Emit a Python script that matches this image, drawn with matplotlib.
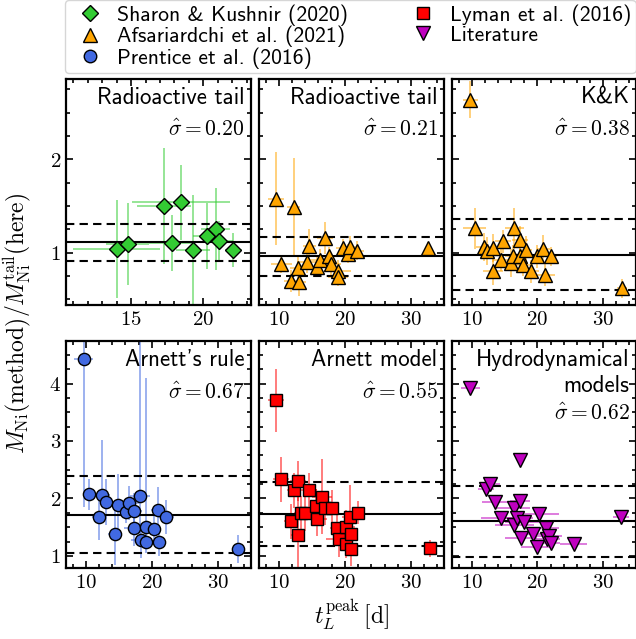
import matplotlib
matplotlib.use('Agg')
import matplotlib.pyplot as plt
from matplotlib.ticker import MultipleLocator, FuncFormatter
from matplotlib.lines import Line2D

plt.rcParams['mathtext.fontset'] = 'cm'
plt.rcParams['font.family'] = ['cmss10', 'DejaVu Sans']
plt.rcParams['axes.unicode_minus'] = False
plt.rcParams['font.size'] = 14

# ---------------- data ----------------
# Sharon & Kushnir (2020) -- radioactive tail
sk_t = [14.0, 14.77, 17.29, 17.83, 18.47, 19.28, 20.26, 20.85, 21.06, 22.08]
sk_r = [1.04, 1.09, 1.50, 1.10, 1.54, 1.03, 1.18, 1.25, 1.12, 1.03]
sk_terr = [3.0, 1.5, 1.85, 1.56, 3.4, 1.2, 1.0, 1.0, 1.0, 0.6]
sk_rerr = [0.52, 0.44, 0.62, 0.30, 0.40, 0.59, 0.35, 0.44, 0.22, 0.18]

# Afsariardchi et al. (2021) -- radioactive tail
af_t = [9.6, 10.4, 11.85, 12.25, 12.9, 13.05, 14.25, 14.6, 15.75, 16.25,
        17.0, 17.65, 17.85, 18.9, 19.0, 19.65, 20.5, 20.75, 21.85, 32.65]
af_r = [1.58, 0.88, 0.70, 1.49, 0.84, 0.69, 0.90, 1.07, 0.85, 0.92,
        1.16, 0.96, 0.88, 0.80, 0.74, 1.05, 0.99, 1.06, 1.02, 1.05]
af_terr = [1.2, 1.6, 1.0, 1.0, 1.2, 1.0, 1.5, 1.0, 1.2, 1.5,
           1.2, 1.5, 1.5, 2.0, 1.5, 1.0, 1.2, 1.0, 1.0, 0.6]
af_rerr = [0.50, 0.10, 0.12, 0.52, 0.12, 0.15, 0.12, 0.18, 0.10, 0.12,
           0.17, 0.10, 0.12, 0.12, 0.10, 0.10, 0.10, 0.12, 0.10, 0.06]

# Afsariardchi et al. (2021) -- K&K
kk_t = [9.8, 10.45, 11.8, 12.3, 13.2, 13.2, 14.45, 14.75, 16.0, 16.25,
        16.5, 17.3, 17.3, 17.8, 18.2, 19.0, 19.9, 20.9, 21.2, 22.0, 32.9]
kk_r = [2.64, 1.26, 1.06, 1.02, 1.05, 0.80, 0.92, 1.12, 0.89, 0.96,
        1.26, 1.14, 0.97, 0.87, 1.03, 0.80, 0.96, 1.04, 0.76, 0.96, 0.62]
kk_terr = [1.2, 1.8, 1.2, 1.0, 1.5, 1.5, 1.2, 1.2, 1.5, 1.2,
           1.5, 1.2, 1.2, 1.5, 1.0, 1.2, 1.2, 1.0, 1.5, 1.0, 0.8]
kk_rerr = [0.20, 0.22, 0.15, 0.15, 0.15, 0.15, 0.12, 0.12, 0.15, 0.12,
           0.22, 0.15, 0.12, 0.12, 0.15, 0.12, 0.12, 0.15, 0.12, 0.10, 0.10]

# Prentice et al. (2016) -- Arnett's rule
pr_t = [9.65, 10.5, 12.0, 12.4, 13.1, 14.4, 14.8, 16.1, 16.6, 17.3,
        17.3, 18.2, 18.3, 19.1, 19.1, 20.35, 20.85, 21.1, 22.1, 33.0]
pr_r = [4.42, 2.07, 1.67, 2.06, 1.93, 1.39, 1.88, 1.77, 1.92, 1.79,
        1.48, 2.04, 1.27, 1.50, 1.25, 1.46, 1.80, 1.25, 1.68, 1.12]
pr_terr = [1.5, 1.0, 1.0, 1.2, 1.0, 1.0, 1.2, 1.0, 1.5, 1.2,
           1.5, 1.5, 1.5, 1.0, 1.2, 1.0, 1.0, 1.0, 1.2, 0.6]
pr_rlo = [2.56, 0.27, 0.40, 0.20, 0.40, 0.55, 0.55, 0.20, 0.30, 0.30,
          0.30, 0.80, 0.30, 0.30, 0.20, 0.25, 0.40, 0.25, 0.30, 0.25]
pr_rhi = [2.5, 0.27, 0.40, 0.96, 0.40, 0.55, 0.55, 0.20, 0.30, 0.30,
          0.30, 2.7, 0.30, 2.6, 0.20, 0.25, 0.40, 0.25, 0.30, 0.25]

# Lyman et al. (2016) -- Arnett model
ly_t = [9.55, 10.35, 11.8, 12.3, 12.9, 12.9, 13.3, 13.9, 14.6, 15.65,
        15.8, 16.5, 17.0, 17.98, 18.8, 19.1, 20.1, 20.1, 20.7, 20.85,
        20.85, 22.0, 32.9]
ly_r = [3.71, 2.33, 1.60, 2.14, 2.31, 1.37, 1.74, 1.74, 2.14, 1.87,
        1.64, 2.03, 1.83, 1.84, 1.48, 1.29, 1.50, 1.21, 1.68, 1.39,
        1.12, 1.75, 1.13]
ly_terr = [1.2, 1.2, 1.0, 1.0, 1.2, 1.0, 1.0, 1.2, 1.2, 1.0,
           1.5, 1.5, 1.2, 1.2, 1.0, 2.0, 1.5, 1.0, 1.2, 1.0,
           1.0, 1.0, 0.6]
ly_rerr = [0.55, 0.40, 0.30, 0.30, 0.35, 0.90, 0.30, 0.30, 0.30, 0.30,
           0.30, 0.65, 0.30, 0.30, 0.30, 0.30, 0.30, 0.25, 0.55, 0.30,
           0.30, 0.20, 0.15]

# Literature -- hydrodynamical models
li_t = [9.8, 12.2, 12.8, 13.5, 14.45, 16.4, 16.5, 16.9, 17.3, 17.3,
        17.5, 18.0, 19.3, 19.95, 20.25, 21.3, 21.5, 21.7, 22.0, 25.5, 32.7]
li_r = [3.92, 2.17, 2.26, 1.94, 1.66, 1.83, 1.54, 1.66, 1.96, 2.67,
        1.31, 1.59, 1.39, 1.16, 1.73, 1.49, 1.30, 1.34, 1.22, 1.20, 1.67]
li_terr = [1.5, 1.2, 1.5, 2.0, 3.0, 2.5, 3.0, 2.5, 1.5, 0.0,
           2.5, 3.0, 2.0, 2.5, 3.0, 2.0, 2.0, 2.0, 1.5, 2.0, 1.2]

# medians and scatter lines per panel
centres = [1.11, 0.96, 0.98, 1.72, 1.73, 1.60]
sigmas = [0.20, 0.21, 0.38, 0.67, 0.55, 0.62]
titles = ['Radioactive tail', 'Radioactive tail', 'K&K',
          "Arnett's rule", 'Arnett model', 'Hydrodynamical\nmodels']

legend_labels = ['Sharon & Kushnir (2020)', 'Afsariardchi et al. (2021)',
                 'Prentice et al. (2016)', 'Lyman et al. (2016)', 'Literature']

c_green = '#33cc33'
c_orange = '#ffa500'
c_blue = '#4169e1'
c_red = '#ff0000'
c_mag = '#bf00bf'

# ---------------- figure ----------------
W, H = 636, 639
fig = plt.figure(figsize=(W / 100, H / 100), dpi=100)


def add_ax(x0, y0, x1, y1):
    return fig.add_axes([x0 / W, 1 - y1 / H, (x1 - x0) / W, (y1 - y0) / H])


cols = [(66, 251), (259, 444), (452, 636)]
rows = [(79, 305), (341, 568)]
axes = [[add_ax(c[0], r[0], c[1], r[1]) for c in cols] for r in rows]

intfmt = FuncFormatter(lambda v, p: r'$%d$' % round(v))


def style(ax, ylim, ymaj, xlim, xmaj, xmin, ylabels, xlabels=True):
    ax.set_xlim(*xlim)
    ax.set_ylim(*ylim)
    ax.xaxis.set_major_locator(MultipleLocator(xmaj))
    ax.xaxis.set_minor_locator(MultipleLocator(xmin))
    ax.yaxis.set_major_locator(MultipleLocator(ymaj))
    ax.yaxis.set_minor_locator(MultipleLocator(0.25))
    ax.xaxis.set_major_formatter(intfmt)
    ax.yaxis.set_major_formatter(intfmt)
    ax.tick_params(which='both', direction='in', top=True, right=True,
                   labelsize=15, width=1.2)
    ax.tick_params(which='major', length=5)
    ax.tick_params(which='minor', length=3)
    if not ylabels:
        ax.tick_params(labelleft=False)
    if not xlabels:
        ax.tick_params(labelbottom=False)
    for s in ax.spines.values():
        s.set_linewidth(1.6)


def panel(ax, t, r, terr, rerr, color, marker, ms, centre, sig, title):
    ax.errorbar(t, r, xerr=terr, yerr=rerr, fmt='none', ecolor=color,
                alpha=0.65, elinewidth=1.1, capsize=0, zorder=2)
    ax.plot(t, r, ls='none', marker=marker, ms=ms, mfc=color, mec='k',
            mew=1.0, zorder=4)
    ax.axhline(centre, color='k', lw=1.5, zorder=3)
    ax.axhline(centre + sig, color='k', lw=1.5, ls=(0, (4, 2.5)), zorder=3)
    ax.axhline(centre - sig, color='k', lw=1.5, ls=(0, (4, 2.5)), zorder=3)
    ax.text(0.965, 0.965, title, transform=ax.transAxes, ha='right', va='top',
            fontsize=16.5, linespacing=1.25)
    ypos = 0.68 if '\n' in title else 0.775
    ax.text(0.965, ypos, r'$\hat{\sigma}=%.2f$' % sig, transform=ax.transAxes,
            ha='right', va='center', fontsize=15.5)


top_ylim = (0.44, 2.86)
bot_ylim = (0.79, 4.74)
wide_x = (7.0, 35.0)

a = axes[0][0]
panel(a, sk_t, sk_r, sk_terr, sk_rerr, c_green, 'D', 7.8, centres[0], sigmas[0], titles[0])
style(a, top_ylim, 1, (10.49, 23.31), 5, 1, True)

a = axes[0][1]
panel(a, af_t, af_r, af_terr, af_rerr, c_orange, '^', 9.8, centres[1], sigmas[1], titles[1])
style(a, top_ylim, 1, wide_x, 10, 2, False)

a = axes[0][2]
panel(a, kk_t, kk_r, kk_terr, kk_rerr, c_orange, '^', 9.8, centres[2], sigmas[2], titles[2])
style(a, top_ylim, 1, wide_x, 10, 2, False)

a = axes[1][0]
panel(a, pr_t, pr_r, pr_terr, [pr_rlo, pr_rhi], c_blue, 'o', 8.8, centres[3], sigmas[3], titles[3])
style(a, bot_ylim, 1, wide_x, 10, 2, True)

a = axes[1][1]
panel(a, ly_t, ly_r, ly_terr, ly_rerr, c_red, 's', 8.5, centres[4], sigmas[4], titles[4])
style(a, bot_ylim, 1, wide_x, 10, 2, False)

a = axes[1][2]
panel(a, li_t, li_r, li_terr, None, c_mag, 'v', 9.8, centres[5], sigmas[5], titles[5])
style(a, bot_ylim, 1, wide_x, 10, 2, False)

axes[1][1].set_xlabel(r'$t_L^{\rm peak}\,[{\rm d}]$', fontsize=17, labelpad=4)
fig.text(0.027, (1 - 323.5 / H),
         r'$M_{\rm Ni}({\rm method})/M_{\rm Ni}^{\rm tail}({\rm here})$',
         rotation=90, ha='center', va='center', fontsize=17)

handles = [
    Line2D([], [], ls='none', marker='D', ms=8, mfc=c_green, mec='k'),
    Line2D([], [], ls='none', marker='^', ms=10, mfc=c_orange, mec='k'),
    Line2D([], [], ls='none', marker='o', ms=9, mfc=c_blue, mec='k'),
    Line2D([], [], ls='none', marker='s', ms=8.5, mfc=c_red, mec='k'),
    Line2D([], [], ls='none', marker='v', ms=10, mfc=c_mag, mec='k'),
]
fig.legend(handles, legend_labels, loc='upper left', bbox_to_anchor=(0.102, 1.0),
           ncol=2, fontsize=15.6, frameon=True, borderaxespad=0,
           columnspacing=2.5, handletextpad=0.3, labelspacing=0.0,
           handlelength=1.9, borderpad=0.2, edgecolor='0.8', fancybox=True)

fig.savefig('out.png', dpi=100)
